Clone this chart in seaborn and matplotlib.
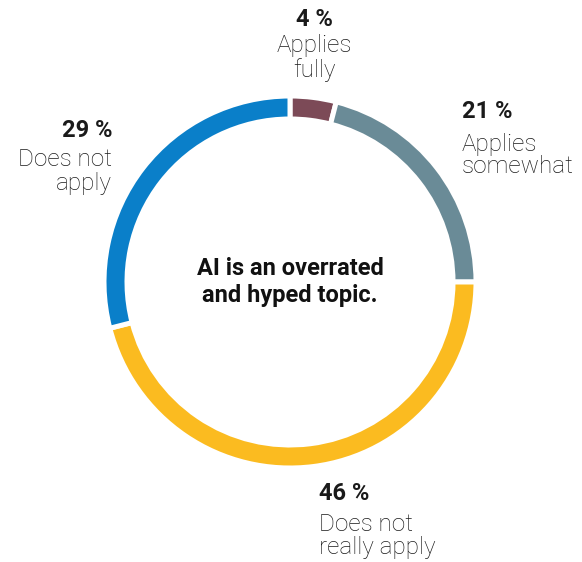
import matplotlib
matplotlib.use("Agg")
import matplotlib.pyplot as plt
import seaborn as sns

# Survey answers, clockwise from the top
categories = ["Applies fully", "Applies somewhat", "Does not really apply", "Does not apply"]
shares = [4, 21, 46, 29]
label_lines = [["Applies", "fully"], ["Applies", "somewhat"],
               ["Does not", "really apply"], ["Does not", "apply"]]
title_lines = ["AI is an overrated", "and hyped topic."]

sns.set_theme(style="white")
plt.rcParams["font.family"] = ["Roboto", "DejaVu Sans"]
palette = sns.color_palette(["#7c4a57", "#6a8b97", "#fbbb20", "#0a7fc9"])

W, H = 582, 562
fig = plt.figure(figsize=(W / 100, H / 100), dpi=100)
ax = fig.add_axes([0, 0, 1, 1])

cx, cy, R, ring = 290, 282, 186, 23
# y axis is inverted below, so counterclock=True runs clockwise on screen
ax.pie(shares, colors=palette, startangle=-90, counterclock=True,
       center=(cx, cy), radius=R, frame=True,
       wedgeprops=dict(width=ring, edgecolor="white", linewidth=3.6))
ax.set_xlim(0, W)
ax.set_ylim(H, 0)
ax.set_aspect("equal")
ax.axis("off")

dark = "#1a1a1a"
bold_size, reg_size = 17, 17.5

def block(x, ys, pct, lines, ha):
    ax.text(x, ys[0], f"{pct} %", ha=ha, va="baseline", fontsize=bold_size,
            fontweight="bold", color=dark)
    for y, s in zip(ys[1:], lines):
        ax.text(x, y, s, ha=ha, va="baseline", fontsize=reg_size,
                fontweight="light", color=dark)

block(314, [26, 52, 77], shares[0], label_lines[0], "center")
block(462, [118, 151, 173], shares[1], label_lines[1], "left")
block(319, [500, 531, 554], shares[2], label_lines[2], "left")
block(112, [137, 166, 190], shares[3], label_lines[3], "right")

for y, s in zip([275, 302], title_lines):
    ax.text(cx, y, s, ha="center", va="baseline", fontsize=17,
            fontweight="bold", color="#111111")

fig.savefig("out.png", dpi=100, facecolor="white")
